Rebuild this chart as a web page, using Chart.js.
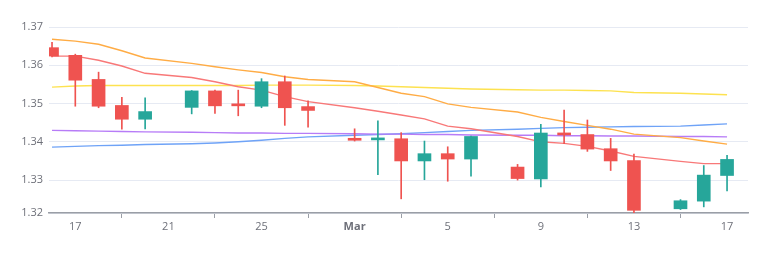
<!DOCTYPE html>
<html>
<head>
<meta charset="utf-8">
<script src="https://cdn.jsdelivr.net/npm/chart.js@4"></script>
<style>
  html, body { margin: 0; padding: 0; background: #fff; }
  #wrap { width: 770px; height: 271px; }
</style>
</head>
<body>
<div id="wrap"><canvas id="chart"></canvas></div>
<script>
// day offset from Feb 16 (no candles on Feb 21, Feb 28, Mar 7, Mar 14)
const days = [0, 1, 2, 3, 4, 6, 7, 8, 9, 10, 11, 13, 14, 15, 16, 17, 18, 20, 21, 22, 23, 24, 25, 27, 28, 29]

const opens = [1.3646, 1.3626, 1.3563, 1.3495, 1.3459, 1.3490, 1.3533, 1.3496, 1.3493, 1.3557, 1.3492,
  1.3408, 1.3405, 1.3408, 1.3350, 1.3369, 1.3355, 1.3334, 1.3303, 1.3423, 1.3419, 1.3382, 1.3351,
  1.3225, 1.3245, 1.3312]
const closes = [1.3624, 1.3561, 1.3493, 1.3459, 1.3479, 1.3533, 1.3494, 1.3494, 1.3557, 1.3489, 1.3482,
  1.3404, 1.3410, 1.3350, 1.3369, 1.3355, 1.3414, 1.3304, 1.3423, 1.3418, 1.3381, 1.3350, 1.3221,
  1.3246, 1.3313, 1.3354]
const highs = [1.3660, 1.3629, 1.3582, 1.3516, 1.3515, 1.3534, 1.3535, 1.3535, 1.3565, 1.3572, 1.3507,
  1.3434, 1.3455, 1.3424, 1.3402, 1.3387, 1.3415, 1.3341, 1.3446, 1.3483, 1.3457, 1.3409, 1.3368,
  1.3249, 1.3338, 1.3365]
const lows = [1.3622, 1.3493, 1.3489, 1.3433, 1.3434, 1.3473, 1.3474, 1.3468, 1.3489, 1.3443, 1.3438,
  1.3402, 1.3314, 1.3251, 1.3301, 1.3297, 1.3310, 1.3300, 1.3282, 1.3395, 1.3375, 1.3325, 1.3214,
  1.3223, 1.3230, 1.3272]

// moving averages
const maOrange = [1.3668, 1.3663, 1.3655, 1.3638, 1.3619, 1.3605, 1.3596, 1.3588, 1.3581, 1.3570, 1.3563,
  1.3557, 1.3542, 1.3527, 1.3518, 1.3499, 1.3490, 1.3478, 1.3464, 1.3453, 1.3443, 1.3433, 1.3420,
  1.3411, 1.3402, 1.3394]
const maRed = [1.3624, 1.3624, 1.3613, 1.3598, 1.3579, 1.3568, 1.3557, 1.3544, 1.3535, 1.3518, 1.3505,
  1.3489, 1.3480, 1.3470, 1.3460, 1.3441, 1.3434, 1.3414, 1.3400, 1.3396, 1.3388, 1.3376, 1.3362,
  1.3349, 1.3343, 1.3343]
const maYellow = [1.3543, 1.3546, 1.3547, 1.3547, 1.3547, 1.3547, 1.3547, 1.3547, 1.3548, 1.3548, 1.3548,
  1.3547, 1.3546, 1.3544, 1.3542, 1.3540, 1.3538, 1.3536, 1.3535, 1.3535, 1.3534, 1.3533, 1.3529,
  1.3527, 1.3525, 1.3523]
const maPurple = [1.3430, 1.3429, 1.3428, 1.3427, 1.3426, 1.3425, 1.3424, 1.3423, 1.3423, 1.3422, 1.3422,
  1.3421, 1.3420, 1.3420, 1.3419, 1.3419, 1.3418, 1.3417, 1.3417, 1.3416, 1.3416, 1.3415, 1.3415,
  1.3414, 1.3414, 1.3413]
const maBlue = [1.3386, 1.3388, 1.3390, 1.3391, 1.3393, 1.3395, 1.3397, 1.3400, 1.3404, 1.3409, 1.3413,
  1.3417, 1.3419, 1.3421, 1.3424, 1.3427, 1.3430, 1.3433, 1.3435, 1.3437, 1.3438, 1.3439, 1.3440,
  1.3441, 1.3444, 1.3447]

const xTickDays = [1, 5, 9, 13, 17, 21, 25, 29]
const xTickLabels = ['17', '21', '25', 'Mar', '5', '9', '13', '17']
const yTicks = [1.33, 1.34, 1.35, 1.36, 1.37]

const UP = '#26a69a'
const DOWN = '#ef5350'
const candleColors = days.map((_, i) => closes[i] >= opens[i] ? UP : DOWN)
const yMin = Math.min(...lows)

const lineSet = (values, color) => ({
  type: 'line',
  data: days.map((d, i) => ({x: d, y: values[i]})),
  borderColor: color,
  borderWidth: 1.4,
  pointRadius: 0,
  tension: 0,
  order: 2,
})

const data = {
  datasets: [
    {
      type: 'bar',
      data: days.map((d, i) => ({x: d, y: [lows[i], highs[i]]})),
      backgroundColor: candleColors,
      barThickness: 1,
      grouped: false,
      order: 1,
    },
    {
      type: 'bar',
      data: days.map((d, i) => ({x: d, y: [opens[i], closes[i]]})),
      backgroundColor: candleColors,
      barThickness: 13,
      minBarLength: 2,
      grouped: false,
      order: 0,
    },
    lineSet(maOrange, '#ffac45'),
    lineSet(maRed, '#f87878'),
    lineSet(maYellow, '#fde250'),
    lineSet(maPurple, '#b77cf7'),
    lineSet(maBlue, '#6fa3f7'),
  ],
}

const labelFont = {family: 'Open Sans', size: 11}

new Chart('chart', {
  type: 'bar',
  data,
  options: {
    responsive: true,
    maintainAspectRatio: false,
    animation: false,
    layout: {padding: {top: 27, right: 22, bottom: 36, left: 0}},
    plugins: {legend: {display: false}, tooltip: {enabled: false}},
    scales: {
      x: {
        type: 'linear',
        min: -0.13,
        max: 29.9,
        offset: false,
        afterBuildTicks: scale => {
          scale.ticks = xTickDays.map(v => ({value: v}))
        },
        afterFit: scale => { scale.height = 22 },
        ticks: {
          color: '#6e7079',
          padding: 2,
          maxRotation: 0,
          autoSkip: false,
          font: ctx => ({...labelFont, weight: ctx.tick && ctx.tick.value === 13 ? 'bold' : 'normal'}),
          callback: v => xTickLabels[xTickDays.indexOf(v)],
        },
        grid: {display: true, drawOnChartArea: false, drawTicks: true, tickLength: 5, color: '#9a9ea6'},
        border: {display: true, color: '#9a9ea6', width: 1.5},
      },
      y: {
        min: yMin,
        max: 1.37,
        afterBuildTicks: scale => {
          scale.ticks = [yMin, ...yTicks].map(v => ({value: v}))
        },
        afterFit: scale => { scale.width = 49 },
        ticks: {
          color: '#6e7079',
          padding: 6,
          font: labelFont,
          callback: v => v.toFixed(2),
        },
        grid: {color: '#e6eaf3', drawTicks: false},
        border: {display: false},
      },
    },
  },
})
</script>
</body>
</html>
